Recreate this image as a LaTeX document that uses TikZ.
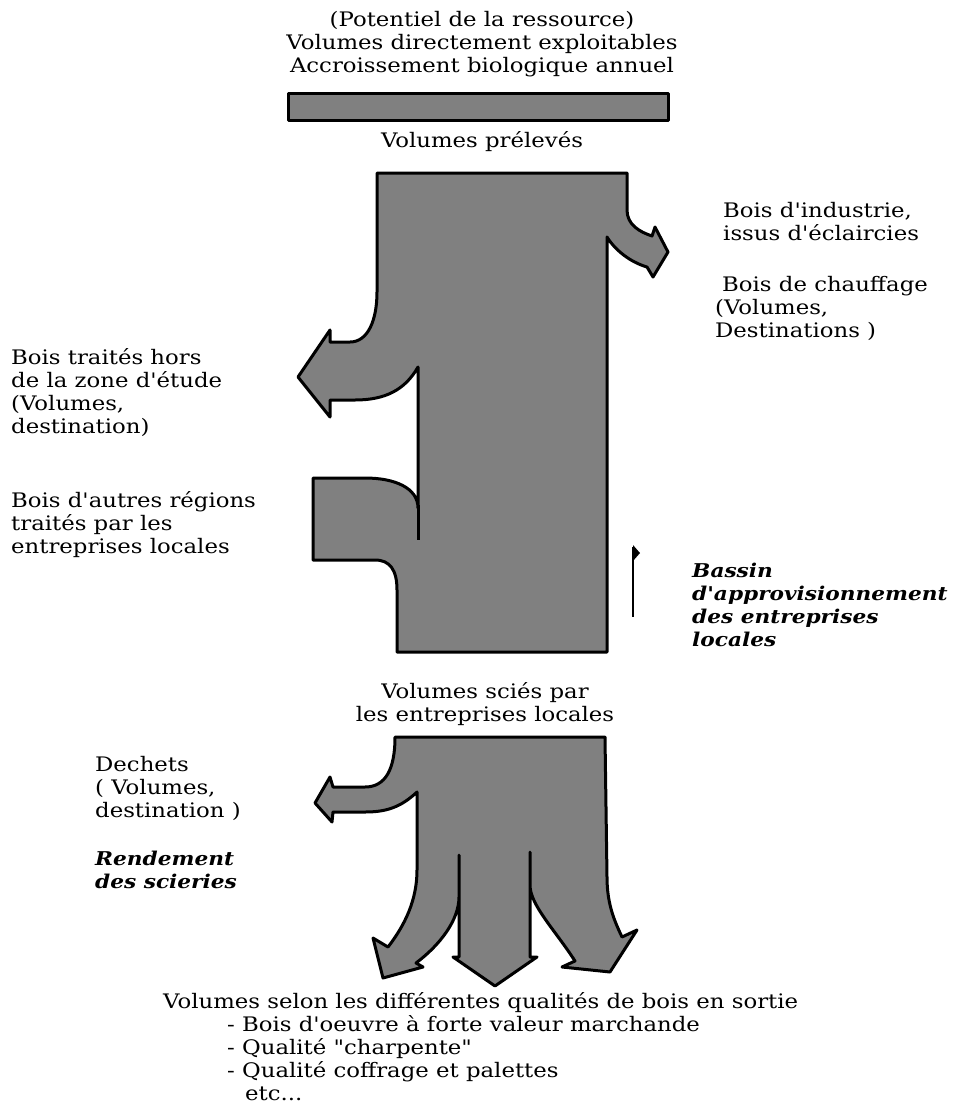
\documentclass[tikz,border=0pt]{standalone}
\usepackage{fontspec}
\newfontfamily\bookfont{DejaVu Serif}[FakeStretch=1.14]
\usepackage{tikz}
\tikzset{
  flow/.style={draw=black, line width=3pt, fill=black!50, line join=round},
  txt/.style={inner sep=0pt, align=left, anchor=north west, font=\bookfont\fontsize{20}{23}\selectfont},
  ctxt/.style={txt, align=center, anchor=north},
  btxt/.style={txt, font=\bookfont\fontsize{19}{23}\selectfont\bfseries\itshape},
}

\begin{document}
\begin{tikzpicture}[x=1pt,y=-1pt]
  \useasboundingbox (0,0) rectangle (961,1109);
  % ressource
  \node[ctxt] (pot) at (482,11) {(Potentiel de la ressource)\\Volumes directement exploitables\\Accroissement biologique annuel};
  \draw[flow] (288,93) rectangle (668,120);
  \node[ctxt] (prel) at (482,131) {Volumes prélevés};
  % bassin
  \draw[flow] (377,173) -- (627,173) -- (627,210)
    .. controls (627,225) and (640,232) .. (652,236) -- (655,227) -- (668,252) -- (653,277) -- (647,267)
    .. controls (630,262) and (615,250) .. (607,237) -- (607,652) -- (397,652) -- (397,590)
    .. controls (397,570) and (390,560) .. (375,560) -- (313,560) -- (313,478) -- (365,478)
    .. controls (395,478) and (418,488) .. (418,508) -- (418,367)
    .. controls (405,390) and (385,400) .. (355,400) -- (330,400) -- (330,417) -- (298,377) -- (330,330) -- (330,342) -- (350,342)
    .. controls (368,342) and (377,320) .. (377,292) -- cycle;
  \draw[line width=3pt] (418,505) -- (418,540);
  \draw[line width=1.6pt] (633,547) -- (633,617);
  \fill (633,545) -- (640,553) -- (633,561) -- cycle;
  \node[txt] (ind) at (723,202) {Bois d'industrie,\\issus d'éclaircies};
  \node[txt] (chauf) at (715,276) {\hspace*{0.35em}Bois de chauffage\\(Volumes,\\Destinations )};
  \node[txt] (hors) at (11,348) {Bois traités hors\\de la zone d'étude\\(Volumes,\\destination)};
  \node[txt] (autres) at (11,491) {Bois d'autres régions\\traités par les\\entreprises locales};
  \node[btxt] (bassin) at (692,563) {Bassin\\d'approvisionnement\\des entreprises\\locales};
  % scieries
  \node[ctxt] (scies) at (485,682) {Volumes sciés par\\les entreprises locales};
  \draw[flow] (395,737) -- (605,737) -- (607,877)
    .. controls (607,905) and (615,922) .. (622,937) -- (637,930) -- (610,972) -- (562,967) -- (575,961)
    .. controls (555,930) and (530,905) .. (530,885) -- (530,852) -- (530,957) -- (537,957) -- (495,986) -- (453,957) -- (459,957) -- (459,855) -- (459,897)
    .. controls (459,920) and (440,945) .. (416,963) -- (423,967) -- (383,978) -- (373,938) -- (388,947)
    .. controls (405,925) and (417,900) .. (417,870) -- (417,792)
    .. controls (400,808) and (385,812) .. (365,812) -- (333,812) -- (332,822) -- (315,803) -- (330,777) -- (333,787) -- (365,787)
    .. controls (385,787) and (395,770) .. (395,737) -- cycle;
  \node[txt] (dech) at (95,756) {Dechets\\( Volumes,\\destination )};
  \node[btxt] (rend) at (95,851) {Rendement\\des scieries};
  \node[txt] (qual) at (163,992) {Volumes selon les différentes qualités de bois en sortie};
  \node[txt] (liste) at (227,1015) {- Bois d'oeuvre à forte valeur marchande\\- Qualité "charpente"\\- Qualité coffrage et palettes\\\hspace*{0.9em}etc...};
\end{tikzpicture}
\end{document}
